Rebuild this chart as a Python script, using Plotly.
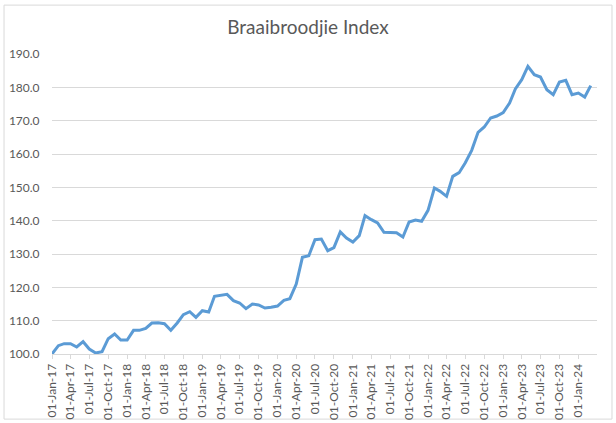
import plotly.graph_objects as go
import pandas as pd

# Donnees mensuelles
start_month = "2017-01-01"
index_values = [
    100.0, 102.5, 103.1, 103.1, 102.1, 103.7, 101.5, 100.3, 100.7, 104.6, 106.0, 104.2,  # 2017
    104.2, 107.1, 107.1, 107.7, 109.3, 109.4, 109.1, 107.1, 109.3, 111.8, 112.7, 111.0,  # 2018
    113.0, 112.6, 117.3, 117.6, 117.9, 116.0, 115.3, 113.6, 115.0, 114.7, 113.8, 114.0,  # 2019
    114.4, 116.1, 116.6, 121.0, 129.0, 129.5, 134.3, 134.5, 131.0, 131.9, 136.6, 134.8,  # 2020
    133.6, 135.5, 141.5, 140.3, 139.3, 136.5, 136.5, 136.4, 135.1, 139.6, 140.2, 139.8,  # 2021
    143.1, 149.8, 148.8, 147.3, 153.3, 154.4, 157.4, 161.1, 166.5, 168.1, 170.8, 171.4,  # 2022
    172.4, 175.3, 179.5, 182.3, 186.3, 183.8, 183.1, 179.3, 177.8, 181.6, 182.1, 177.8,  # 2023
    178.3, 177.1, 180.5,                                                                  # 2024
]
dates = pd.date_range(start_month, periods=len(index_values), freq="MS")

y_range = [100, 190]
x_range = ["2017-01-01", "2024-03-31 12:00"]

TEXT = "#595959"
GRID = "#d9d9d9"
BLUE = "#5b9bd5"
FONT = "Lato, Open Sans, sans-serif"

fig = go.Figure()

fig.add_trace(go.Scatter(
    x=dates,
    y=index_values,
    mode="lines",
    line=dict(color=BLUE, width=3),
    showlegend=False,
))

# Cadre du graphique (style Excel)
fig.add_shape(
    type="rect", xref="paper", yref="paper",
    x0=-0.088, x1=1.0275, y0=-0.217, y1=1.163,
    line=dict(color=GRID, width=1),
    fillcolor="rgba(0,0,0,0)",
    layer="below",
)

fig.update_layout(
    width=616,
    height=423,
    margin=dict(l=52, r=19, t=54, b=69),
    paper_bgcolor="white",
    plot_bgcolor="white",
    font=dict(family=FONT, size=12, color=TEXT),
    title=dict(
        text="Braaibroodjie Index",
        x=0.5, xanchor="center",
        y=1 - 27 / 423, yanchor="middle",
        font=dict(family=FONT, size=19, color=TEXT),
        automargin=False,
    ),
    xaxis=dict(
        type="date",
        range=x_range,
        tick0=start_month,
        dtick="M3",
        tickformat="%d-%b-%y",
        tickangle=-90,
        ticks="outside",
        ticklen=4,
        tickcolor=GRID,
        showline=True,
        linecolor=GRID,
        linewidth=1,
        showgrid=False,
        zeroline=False,
        automargin=False,
        tickfont=dict(size=12, color=TEXT),
    ),
    yaxis=dict(
        range=y_range,
        dtick=10,
        tickformat=".1f",
        ticks="outside",
        ticklen=9,
        tickcolor="rgba(0,0,0,0)",
        showline=False,
        showgrid=True,
        gridcolor=GRID,
        gridwidth=1,
        zeroline=False,
        automargin=False,
        tickfont=dict(size=12, color=TEXT),
    ),
)

# la page a une marge de 8px par defaut : on la retire
fig.write_html(
    "out.html",
    config={"displayModeBar": False},
    post_script="document.body.style.margin='0';",
)
